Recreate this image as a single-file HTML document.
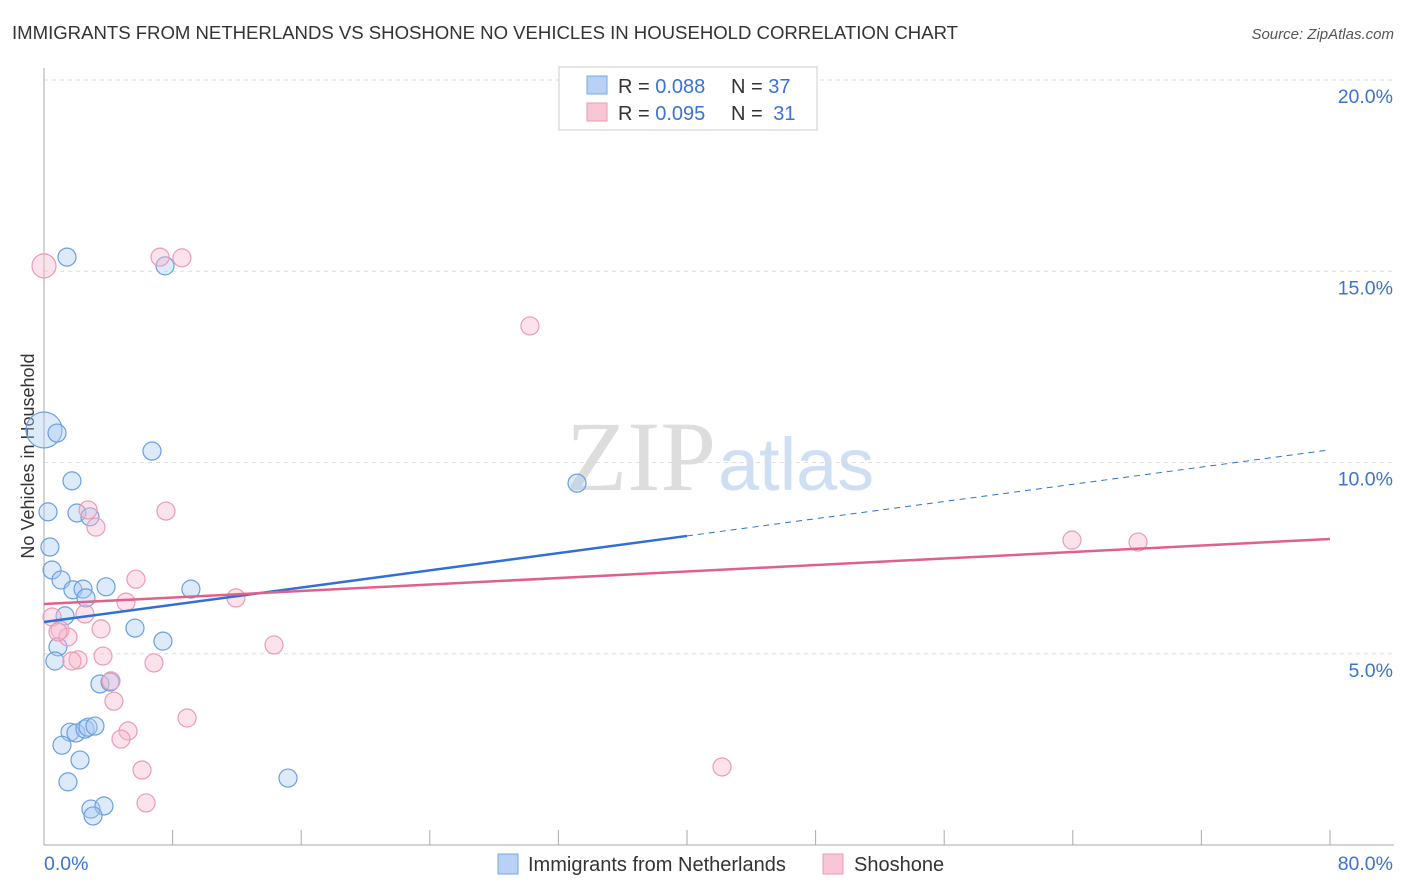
<!DOCTYPE html>
<html><head><meta charset="utf-8"><style>
body{margin:0;background:#fff;font-family:"Liberation Sans",sans-serif}
</style></head><body>
<svg width="1406" height="892" style="display:block">
<text x="12" y="39" font-size="18.6" fill="#333" textLength="946">IMMIGRANTS FROM NETHERLANDS VS SHOSHONE NO VEHICLES IN HOUSEHOLD CORRELATION CHART</text>
<text x="1394" y="39" font-size="15" fill="#555" font-style="italic" text-anchor="end">Source: ZipAtlas.com</text>
<text x="716" y="490" font-size="100" fill="#ddd" text-anchor="end" font-family="Liberation Serif">ZIP</text>
<text x="718" y="490" font-size="74" fill="#cfdff3">atlas</text>
<g id="grid"></g>
<g id="axes"></g>
<text transform="translate(34,456) rotate(-90)" font-size="18" fill="#333" text-anchor="middle">No Vehicles in Household</text>
<g id="pts"></g>
<g id="trend"></g>
<g>
<rect x="559" y="67" width="258" height="63" fill="#fff" stroke="#ccc"/>
<rect x="587" y="76" width="20" height="18" fill="#b7d2f5" stroke="#7aa7e3"/>
<rect x="587" y="103" width="20" height="18" fill="#f9c6d5" stroke="#eb9ab5"/>
<text x="618" y="93" font-size="20" fill="#333">R = <tspan fill="#3a73d0">0.088</tspan></text>
<text x="731" y="93" font-size="20" fill="#333">N = <tspan fill="#3a73d0">37</tspan></text>
<text x="618" y="120" font-size="20" fill="#333">R = <tspan fill="#3a73d0">0.095</tspan></text>
<text x="731" y="120" font-size="20" fill="#333">N = <tspan fill="#3a73d0" dx="5">31</tspan></text>
</g>
<g>
<rect x="498" y="854" width="20" height="20" fill="#b7d2f5" stroke="#7aa7e3"/>
<text x="528" y="871" font-size="20" fill="#333">Immigrants from Netherlands</text>
<rect x="823" y="854" width="20" height="20" fill="#f9c6d5" stroke="#eb9ab5"/>
<text x="854" y="871" font-size="20" fill="#333">Shoshone</text>
</g>
</svg>
<script>
const blueX=[0,0.81,1.43,7.53,6.72,1.74,0.25,2.05,2.86,0.37,0.5,1.06,1.8,2.43,3.86,2.61,9.14,1.31,5.66,7.4,0.87,0.68,3.48,4.11,1.62,1.99,2.55,2.74,3.17,1.12,2.24,1.49,2.92,3.73,3.05,15.18,33.16];
const blueY=[10.85,10.77,15.37,15.14,10.3,9.52,8.71,8.68,8.58,7.79,7.19,6.93,6.67,6.69,6.75,6.46,6.69,5.99,5.67,5.33,5.18,4.81,4.21,4.26,2.95,2.93,3.03,3.08,3.11,2.61,2.22,1.65,0.94,1.02,0.76,1.75,9.46];
const pinkX=[0,7.22,8.58,30.23,2.74,7.59,3.23,5.72,5.1,11.94,2.55,0.5,1,1.49,3.55,2.12,1.74,3.67,6.84,14.31,4.17,4.35,8.9,5.23,4.79,6.1,6.35,42.18,63.95,68.06,0.87];
const pinkY=[15.14,15.37,15.35,13.57,8.76,8.73,8.31,6.95,6.35,6.46,6.04,5.96,5.62,5.44,5.65,4.84,4.81,4.94,4.76,5.23,4.29,3.76,3.32,2.98,2.77,1.96,1.1,2.04,7.97,7.92,5.57];
const yTicks=[5,10,15,20];
const blueTrend=[5.83,10.33];
const pinkTrend=[6.3,8.0];
const NS="http://www.w3.org/2000/svg";
const sx=v=>44+v*(1286/80), sy=v=>845-v*38.25;
function mk(tag,attrs,parent){const e=document.createElementNS(NS,tag);for(const k in attrs)e.setAttribute(k,attrs[k]);parent.appendChild(e);return e;}
const grid=document.getElementById('grid'),axes=document.getElementById('axes'),pts=document.getElementById('pts'),tr=document.getElementById('trend');
yTicks.forEach(t=>{
 const l=mk('line',{x1:44,x2:1394,y1:sy(t),y2:sy(t),stroke:'#ddd','stroke-dasharray':'4,4'},grid);
 
 
 const tx=mk('text',{x:1393,y:sy(t)+23,'font-size':19.5,fill:'#3a73d0','text-anchor':'end'},axes);
 tx.textContent=t.toFixed(1)+'%';
 
 
});
const ax=mk('line',{x1:44,x2:44,y1:68,y2:845,stroke:'#aaa'},axes);


const bx=mk('line',{x1:44,x2:1394,y1:845,y2:845,stroke:'#aaa'},axes);


for(let i=0;i<=10;i++){const t=mk('line',{x1:sx(i*8),x2:sx(i*8),y1:830,y2:845,stroke:'#aaa'},axes);
 
 }
[['0.0%',44,'start'],['80.0%',1393,'end']].forEach(a=>{const t=mk('text',{x:a[1],y:870,'font-size':19.5,fill:'#3a73d0','text-anchor':a[2]},axes);t.textContent=a[0];
 
 });
function dots(X,Y,fill,stroke,big,name){X.forEach((x,i)=>{const c=mk('circle',{cx:sx(x),cy:sy(Y[i]),r:i===0?big:9,fill:fill,stroke:stroke,'stroke-width':1.2},pts);
 
 });}
dots(blueX,blueY,'rgba(170,202,242,0.4)','#6a9fe0',18,'netherlands-point');
dots(pinkX,pinkY,'rgba(247,185,205,0.4)','#eb9ab5',12,'shoshone-point');
const bs=(blueTrend[1]-blueTrend[0])/80, bm=40;
const b1=mk('line',{x1:sx(0),y1:sy(blueTrend[0]),x2:sx(bm),y2:sy(blueTrend[0]+bs*bm),stroke:'#2f6fd6','stroke-width':2.5},tr);


const b2=mk('line',{x1:sx(bm),y1:sy(blueTrend[0]+bs*bm),x2:sx(80),y2:sy(blueTrend[1]),stroke:'#2f6fd6','stroke-width':1,'stroke-dasharray':'6,5'},tr);


const p1=mk('line',{x1:sx(0),y1:sy(pinkTrend[0]),x2:sx(80),y2:sy(pinkTrend[1]),stroke:'#e0608c','stroke-width':2.5},tr);


</script>
</body></html>
